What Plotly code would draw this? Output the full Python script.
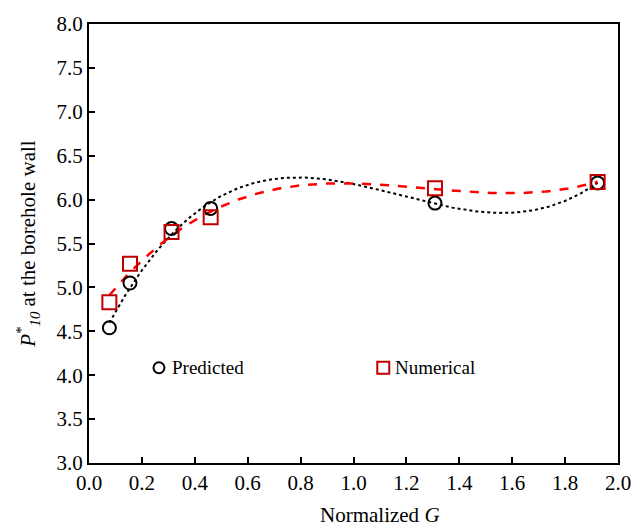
import numpy as np
import plotly.graph_objects as go

# Data
g_norm = [0.077, 0.155, 0.312, 0.460, 1.308, 1.923]
predicted = [4.54, 5.05, 5.67, 5.90, 5.96, 6.19]
numerical = [4.83, 5.27, 5.63, 5.80, 6.13, 6.20]

x_ticks = [0.0, 0.2, 0.4, 0.6, 0.8, 1.0, 1.2, 1.4, 1.6, 1.8, 2.0]
y_ticks = [3.0, 3.5, 4.0, 4.5, 5.0, 5.5, 6.0, 6.5, 7.0, 7.5, 8.0]

series_names = ["Predicted", "Numerical"]

FONT = "Liberation Serif"
BLACK = "black"
DARKRED = "#c00000"

# polynomial (order 3) trendlines, as in the spreadsheet chart
xs = np.linspace(min(g_norm), max(g_norm), 300)
fit_pred = np.polyval(np.polyfit(g_norm, predicted, 3), xs)
fit_num = np.polyval(np.polyfit(g_norm, numerical, 3), xs)

fig = go.Figure()
fig.add_trace(go.Scatter(x=xs, y=fit_pred, mode="lines", showlegend=False,
                         line=dict(color=BLACK, width=2, dash="dot"), hoverinfo="skip"))
fig.add_trace(go.Scatter(x=xs, y=fit_num, mode="lines", showlegend=False,
                         line=dict(color="#ff0000", width=2.5, dash="dash"), hoverinfo="skip"))
fig.add_trace(go.Scatter(x=g_norm, y=predicted, mode="markers", name=series_names[0],
                         showlegend=False,
                         marker=dict(symbol="circle-open", size=13, color=BLACK,
                                     line=dict(width=2, color=BLACK))))
fig.add_trace(go.Scatter(x=g_norm, y=numerical, mode="markers", name=series_names[1],
                         showlegend=False,
                         marker=dict(symbol="square-open", size=14, color=DARKRED,
                                     line=dict(width=2, color=DARKRED))))

axis_common = dict(showline=True, linecolor="black", linewidth=2, mirror=True,
                   ticks="inside", ticklen=6, tickwidth=2, tickcolor="black",
                   showgrid=False, zeroline=False,
                   tickfont=dict(family=FONT, size=21, color="black"))

# Legend drawn inside the plot area (key symbols + labels), paper coordinates
leg_y = 0.217
leg_items = [
    dict(sym="circle", cx=0.1323, tx=0.1531, color=BLACK, r=5.5),
    dict(sym="rect", cx=0.5563, tx=0.5752, color=DARKRED, r=6),
]
shapes = []
annotations = []
for name, it in zip(series_names, leg_items):
    shapes.append(dict(type=it["sym"], xref="paper", yref="paper",
                       xsizemode="pixel", ysizemode="pixel",
                       xanchor=it["cx"], yanchor=leg_y,
                       x0=-it["r"], x1=it["r"], y0=-it["r"], y1=it["r"],
                       line=dict(color=it["color"], width=2), fillcolor="rgba(0,0,0,0)"))
    annotations.append(dict(xref="paper", yref="paper", x=it["tx"], y=leg_y,
                            xanchor="left", yanchor="middle", showarrow=False,
                            text=name, font=dict(family=FONT, size=19, color="black")))

# x-axis title (placed slightly right of centre, as in the reference)
annotations.append(dict(xref="paper", yref="paper", x=0.55, y=-0.118,
                        xanchor="center", yanchor="middle", showarrow=False,
                        text="Normalized <i>G</i>",
                        font=dict(family=FONT, size=21, color="black")))

fig.update_layout(
    width=644, height=527,
    margin=dict(l=89, r=26, t=21, b=64),
    paper_bgcolor="white", plot_bgcolor="white",
    font=dict(family=FONT, color="black"),
    showlegend=False,
    xaxis=dict(range=[0, 2], tickvals=x_ticks, ticktext=[f"{v:.1f}" for v in x_ticks],
               **axis_common),
    yaxis=dict(range=[3, 8], tickvals=y_ticks, ticktext=[f"{v:.1f}" for v in y_ticks],
               title=dict(text="<i>P</i><sup>*</sup><sub><i>10</i></sub> at the borehole wall",
                          font=dict(family=FONT, size=21), standoff=15),
               **axis_common),
    shapes=shapes,
    annotations=annotations,
)

fig.write_html("out.html")
